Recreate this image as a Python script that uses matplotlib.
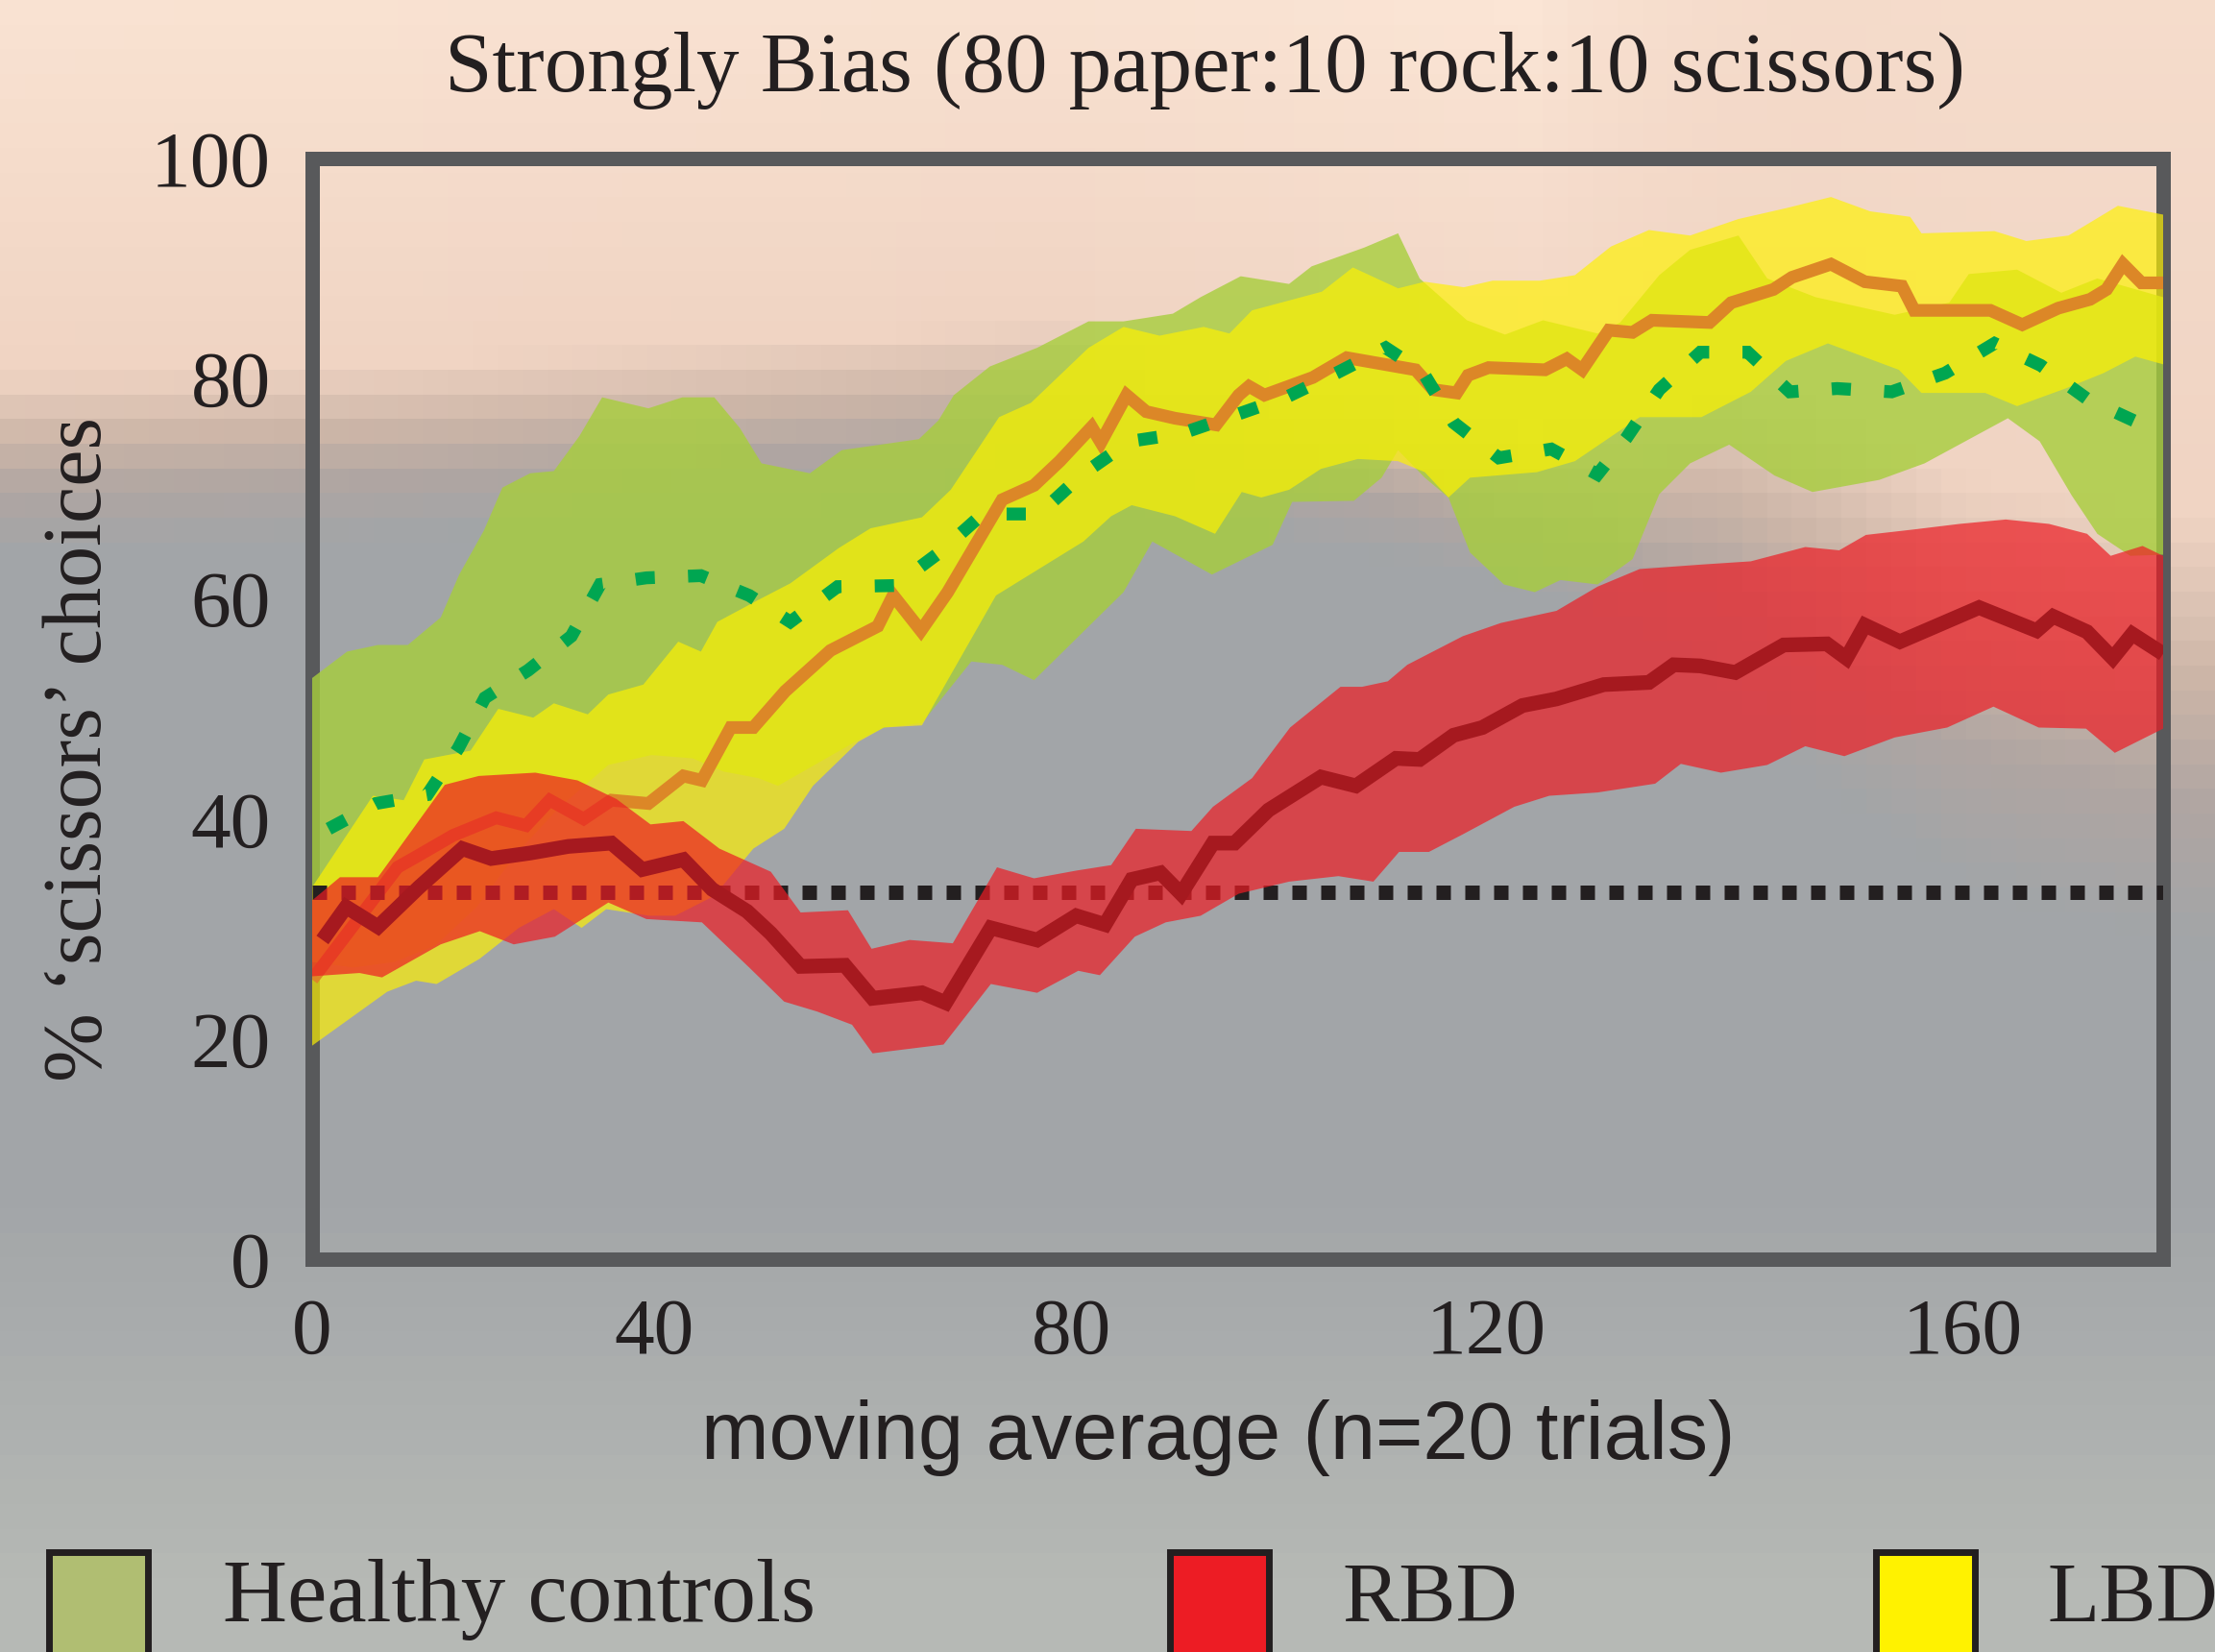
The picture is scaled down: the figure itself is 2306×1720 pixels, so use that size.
import numpy as np
import matplotlib
matplotlib.use("Agg")
import matplotlib.pyplot as plt
from matplotlib.patches import Rectangle

# Healthy controls: band (upper / lower edge) and mean
hc_up_x = [0, 3.4, 6.4, 9.3, 12.5, 14.3, 16.7, 18.5, 21.2, 23.5, 26.0, 28.2, 32.7, 36.0, 39.1, 41.6,
           43.7, 48.4, 51.5, 59.0, 60.9, 62.4, 65.9, 70.5, 75.5, 78.9, 83.7, 86.4, 90.3, 95.0, 97.2,
           102.3, 105.6, 107.7, 112.3, 116.0, 119.7, 125.0, 127.2, 131.0, 134.0, 138.7, 141.5, 146.2,
           153.9, 159.2, 161.1, 165.8, 170.1, 173.6, 180]
hc_up_y = [52.8, 55.2, 55.8, 55.8, 58.3, 62.2, 66.2, 70.1, 71.4, 71.6, 74.8, 78.3, 77.3, 78.3, 78.3, 75.5,
           72.3, 71.4, 73.5, 74.5, 76.2, 78.5, 81.1, 82.8, 85.2, 85.2, 85.9, 87.4, 89.3, 88.6, 90.2,
           91.9, 93.2, 89.1, 85.3, 84.0, 85.3, 84.1, 85.1, 89.4, 91.7, 93.0, 89.1, 87.4,
           85.8, 86.9, 89.5, 89.9, 87.8, 89.1, 87.4]
hc_lo_x = [0, 4, 8, 12, 16, 20, 24, 28.8, 33, 37, 40, 43.4, 45.3, 52.8, 55.6, 59.3, 64.1, 67.1, 70.2,
           78.9, 81.7, 87.5, 93.4, 95.3, 101.3, 104.0, 105.6, 108.2, 110.5, 112.6, 115.9, 118.9, 121.4,
           125.0, 128.4, 131.0, 134.0, 137.8, 142.2, 145.9, 152.4, 156.8, 164.9, 168.0, 171.1, 173.6,
           176.8, 180]
hc_lo_y = [27, 26.5, 27, 28.5, 32, 37, 41, 44.9, 45.8, 45.5, 44.3, 43.7, 43.0, 47.0, 48.3, 48.7, 54.3, 54.0, 52.6,
           60.6, 65.2, 62.2, 64.9, 68.8, 68.9, 71.0, 73.5, 71.0, 69.2, 64.2, 61.3, 60.6, 61.7,
           61.3, 63.6, 69.5, 72.3, 74.0, 71.2, 69.7, 70.8, 72.3, 76.4, 74.3, 69.4, 65.9,
           63.9, 64.0]
hc_x = [1.6, 6.2, 11.2, 14.2, 16.8, 21.0, 25.2, 28.0, 32.5, 37.8, 42.5, 46.5, 51.1, 56.7, 61.0, 65.2,
        70.7, 74.9, 79.5, 84.5, 89.5, 94.7, 99.6, 104.4, 108.0, 111.0, 115.4, 120.5, 125.0, 127.8,
        131.0, 135.0, 139.6, 143.7, 148.3, 153.6, 158.8, 163.6, 168.1, 172.7, 177.8]
hc_y = [39.1, 41.4, 42.2, 46.4, 51.0, 53.5, 56.6, 61.3, 61.9, 62.1, 60.3, 57.9, 61.1, 61.2, 64.2, 67.7,
        67.7, 71.3, 74.3, 75.0, 76.6, 78.3, 80.5, 82.8, 80.6, 76.0, 72.8, 73.6, 71.3, 74.6,
        79.0, 82.4, 82.4, 78.8, 79.1, 78.8, 80.5, 83.2, 81.2, 78.1, 75.9]

# LBD
lbd_up_x = [0, 5.9, 8.9, 10.9, 15.4, 18.1, 21.5, 23.5, 26.8, 28.8, 32.2, 35.6, 37.8, 39.4, 43.4, 46.5,
            51.2, 54.3, 59.3, 62.1, 66.8, 69.9, 75.5, 78.9, 82.4, 86.7, 89.2, 91.4, 98.2, 101.2, 105.6,
            108.2, 112.0, 114.8, 119.4, 122.8, 126.3, 130.0, 134.0, 138.7, 143.4, 147.7, 151.5, 155.4,
            156.5, 163.6, 166.7, 170.8, 175.6, 180]
lbd_up_y = [33.8, 42.1, 41.7, 45.4, 46.2, 50.0, 49.2, 50.5, 49.5, 51.3, 52.2, 56.1, 55.2, 57.9, 59.9, 61.4,
            64.6, 66.4, 67.4, 69.9, 76.5, 77.8, 82.8, 84.7, 83.9, 84.7, 84.1, 86.2, 87.9, 90.1, 88.2,
            88.8, 88.3, 88.9, 88.9, 89.4, 92.0, 93.5, 93.0, 94.5, 95.5, 96.5, 95.2, 94.7,
            93.2, 93.4, 92.5, 93.0, 95.7, 94.9]
lbd_lo_x = [0, 7.3, 10.1, 12.1, 16.3, 20.1, 23.5, 26.2, 28.6, 32.8, 35.3, 39.1, 42.9, 45.9, 48.7, 53.1,
            55.6, 59.3, 66.5, 75.0, 77.7, 79.7, 83.9, 87.8, 90.4, 92.3, 95.0, 98.1, 101.7, 105.6, 108.2,
            110.5, 112.6, 119.1, 122.8, 129.1, 135.1, 139.9, 143.3, 147.4, 154.3, 156.5, 162.7, 165.8,
            170.5, 174.2, 177.3, 180]
lbd_lo_y = [19.4, 24.3, 25.3, 25.0, 27.3, 30.1, 31.8, 30.1, 31.8, 31.2, 31.2, 33.0, 37.3, 39.1, 43.0, 47.0,
            48.3, 48.5, 60.3, 65.2, 67.5, 68.5, 67.5, 65.9, 69.7, 69.2, 69.9, 71.8, 72.7, 72.5, 71.5,
            69.2, 71.0, 71.5, 72.5, 76.5, 76.5, 78.8, 81.6, 83.2, 80.8, 78.7, 78.7, 77.5,
            79.1, 80.5, 82.0, 81.3]
lbd_x = [0, 8.3, 10.0, 13.7, 17.9, 20.8, 23.1, 26.4, 29.1, 32.7, 36.1, 37.9, 40.7, 42.9, 46.0, 50.4,
         55.0, 56.5, 59.2, 61.8, 67.1, 70.2, 72.7, 75.8, 76.7, 79.2, 81.1, 83.9, 87.9, 90.1, 91.1,
         92.6, 97.3, 100.6, 107.3, 109.0, 111.3, 112.4, 114.4, 119.9, 122.0, 123.5, 126.1, 128.4,
         130.3, 135.9, 138.0, 142.1, 143.9, 147.7, 151.0, 154.6, 155.8, 163.2, 166.3, 169.8, 172.9,
         174.5, 176.1, 177.9, 180]
lbd_y = [25.4, 35.6, 36.5, 38.5, 40.1, 39.4, 41.7, 40.0, 41.7, 41.4, 43.9, 43.5, 48.3, 48.3, 51.6, 55.3,
         57.5, 60.3, 57.1, 60.6, 69.0, 70.3, 72.5, 75.6, 74.2, 78.5, 77.0, 76.4, 75.8, 78.5, 79.3,
         78.5, 80.1, 81.9, 80.8, 79.0, 78.7, 80.3, 81.0, 80.8, 81.8, 80.8, 84.4, 84.2,
         85.3, 85.1, 86.9, 88.1, 89.2, 90.4, 88.8, 88.4, 86.2, 86.2, 84.9, 86.4, 87.2,
         88.1, 90.4, 88.7, 88.7]

# RBD
rbd_up_x = [0, 2.7, 6.4, 12.9, 16.2, 21.7, 25.8, 29.6, 32.9, 36.1, 39.6, 44.6, 47.5, 52.1, 54.4, 58.1,
            62.3, 66.6, 70.2, 74.3, 77.7, 80.1, 85.5, 87.6, 91.4, 95.1, 100.0, 102.1, 104.6, 106.5,
            111.9, 115.6, 121.0, 125.0, 129.1, 135.0, 139.9, 145.2, 148.5, 151.1, 155.8, 160.2, 164.7,
            168.9, 172.6, 174.9, 178.0, 180]
rbd_up_y = [32.6, 34.7, 34.7, 43.1, 43.9, 44.2, 43.5, 41.8, 39.5, 39.8, 37.3, 35.2, 31.5, 31.7, 28.2, 29.0,
            28.7, 35.6, 34.6, 35.3, 35.8, 39.1, 38.9, 41.1, 43.7, 48.3, 52.0, 52.0, 52.5, 54.0,
            56.6, 57.8, 58.9, 61.1, 62.7, 63.1, 63.4, 64.7, 64.4, 65.8, 66.3, 66.8, 67.2,
            66.8, 65.9, 63.9, 64.8, 63.9]
rbd_lo_x = [0, 4.6, 6.8, 12.5, 16.3, 19.6, 23.6, 28.8, 32.5, 37.9, 42.5, 45.9, 49.1, 52.5, 54.5, 61.4,
            66.0, 70.5, 74.5, 76.6, 80.0, 83.0, 86.4, 90.1, 95.0, 99.8, 103.2, 105.7, 108.6, 111.9,
            116.9, 120.3, 125.0, 130.6, 133.1, 137.0, 141.5, 145.2, 149.0, 153.9, 159.0, 163.5, 167.9,
            172.5, 175.3, 180]
rbd_lo_y = [25.7, 26.0, 25.6, 28.6, 29.8, 28.6, 29.3, 32.4, 30.9, 30.6, 26.5, 23.4, 22.5, 21.3, 18.7, 19.5,
            25.0, 24.2, 26.2, 25.8, 29.3, 30.6, 31.2, 33.2, 34.3, 34.8, 34.3, 37.0, 37.0, 38.6,
            41.1, 42.1, 42.4, 43.2, 45.0, 44.2, 44.9, 46.6, 45.7, 47.4, 48.3, 50.2, 48.3,
            48.2, 46.0, 48.2]
rbd_x = [1.0, 3.3, 6.4, 10.4, 14.6, 17.4, 21.2, 24.9, 29.1, 32.1, 36.1, 38.9, 42.3, 44.6, 47.5, 51.8,
         54.5, 59.3, 61.6, 66.0, 70.5, 74.3, 77.1, 79.7, 82.5, 84.5, 87.6, 89.7, 93.0, 98.1, 101.5,
         105.4, 107.7, 111.0, 113.8, 117.7, 121.0, 125.6, 130.0, 132.4, 135.0, 138.4, 143.1, 147.3,
         149.2, 151.0, 154.4, 162.1, 167.7, 169.3, 172.6, 175.1, 177.0, 180]
rbd_y = [29.0, 32.0, 30.2, 33.8, 37.3, 36.4, 36.9, 37.5, 37.8, 35.4, 36.3, 33.6, 31.6, 29.6, 26.6, 26.7,
         23.7, 24.2, 23.3, 30.1, 29.0, 31.2, 30.4, 34.5, 35.1, 33.2, 37.8, 37.8, 40.8, 43.8, 43.0,
         45.5, 45.4, 47.6, 48.3, 50.3, 50.9, 52.2, 52.4, 54.0, 53.9, 53.3, 55.8, 55.9,
         54.6, 57.6, 56.1, 59.2, 57.1, 58.4, 57.0, 54.6, 56.8, 55.0]

chance_level = 100 / 3
trial_span = [0, 180]

xtick_at = [0, 33.3, 73.8, 114.2, 160.5]
xtick_labels = ["0", "40", "80", "120", "160"]
ytick_at = [0, 20, 40, 60, 80, 100]

groups = ["Healthy controls", "RBD", "LBD"]
group_colors = ["#b0be72", "#ed1c24", "#fff200"]

plt.rcParams["font.family"] = "Liberation Serif"

W, H = 2306, 1720
fig = plt.figure(figsize=(W / 100, H / 100), dpi=100)

# blocky peach-to-grey backdrop
cell = 26
ny, nx = H // cell + 1, W // cell + 1
yy = (np.arange(ny) + 0.5) * cell
xx = (np.arange(nx) + 0.5) * cell
edge = np.interp(xx, [0, 400, 800, 1100, 1500, 1800, 2050, 2306], [500, 485, 460, 440, 520, 580, 740, 800])
spread = np.interp(xx, [0, 1600, 1900, 2306], [70, 65, 150, 170])
t = (yy[:, None] - edge[None, :]) / spread[None, :]
ramp_t = [-8, -1.5, -0.5, 0.3, 1.2]
ramp_c = np.array([(251, 229, 213), (240, 212, 195), (205, 182, 168), (176, 166, 162), (162, 165, 168)])
img = np.stack([np.interp(t, ramp_t, ramp_c[:, k]) for k in range(3)], axis=-1)
low = np.clip((yy - 1250) / 420, 0, 1)[:, None, None]
img = img * (1 - low) + np.array([182, 185, 181]) * low
bg = fig.add_axes([0, 0, 1, 1], zorder=-10)
bg.imshow(img.astype(np.uint8), extent=(0, W, H, 0), interpolation="nearest", aspect="auto")
bg.set_xlim(0, W)
bg.set_ylim(H, 0)
bg.axis("off")

ax = fig.add_axes([325 / W, 1 - 1311 / H, (2252 - 325) / W, (1311 - 165) / H])
ax.set_facecolor("none")


def band(ax, up_x, up_y, lo_x, lo_y, color, alpha, z):
    xs = list(up_x) + list(lo_x)[::-1]
    ys = list(up_y) + list(lo_y)[::-1]
    ax.fill(xs, ys, color=color, alpha=alpha, lw=0, zorder=z)


band(ax, hc_up_x, hc_up_y, hc_lo_x, hc_lo_y, "#a7ce3c", 0.8, 2)
band(ax, lbd_up_x, lbd_up_y, lbd_lo_x, lbd_lo_y, "#fff200", 0.67, 3)
ax.plot(lbd_x, lbd_y, color="#dc8727", lw=9.5, solid_joinstyle="miter",
        solid_capstyle="butt", zorder=4)
ax.plot(trial_span, [chance_level, chance_level], color="#231f20", lw=10.8,
        linestyle=(0, (1, 1)), dash_capstyle="butt", zorder=5)
ax.plot(hc_x, hc_y, color="#00a651", lw=9.6, linestyle=(0, (1.5, 2.6)),
        dash_capstyle="butt", dash_joinstyle="miter", zorder=5)
band(ax, rbd_up_x, rbd_up_y, rbd_lo_x, rbd_lo_y, "#ed1c24", 0.7, 6)
ax.plot(rbd_x, rbd_y, color="#a6191f", lw=11, solid_joinstyle="miter",
        solid_capstyle="butt", zorder=7)

ax.set_xlim(0, 180)
ax.set_ylim(0, 100)
for s in ax.spines.values():
    s.set_linewidth(10.8)
    s.set_color("#58595b")
    s.set_capstyle("projecting")
    s.set_zorder(1)
ax.set_xticks(xtick_at, xtick_labels)
ax.set_yticks(ytick_at, [str(v) for v in ytick_at])
ax.tick_params(axis="both", length=0, labelsize=60, colors="#231f20")
ax.tick_params(axis="x", pad=29)
ax.tick_params(axis="y", pad=31)

fig.text(1254 / W, 1 - 73 / H, "Strongly Bias (80 paper:10 rock:10 scissors)",
         ha="center", va="center", fontsize=64, color="#231f20")
fig.text(84 / W, 1 - 780 / H, "% \u2018scissors\u2019 choices", rotation=90,
         ha="center", va="center", fontsize=62, color="#231f20")
fig.text(1268 / W, 1 - 1497 / H, "moving average (n=20 trials)", family="Liberation Sans",
         ha="center", va="center", fontsize=61, color="#231f20")

# legend swatches run off the bottom edge
patch_left = [51, 1218, 1953]
text_left = [232, 1397, 2132]
text_size = [67, 64, 64]
for name, col, px, tx, fs in zip(groups, group_colors, patch_left, text_left, text_size):
    fig.add_artist(Rectangle((px / W, -0.05), 103 / W, 0.05 + 1 - 1616 / H,
                             transform=fig.transFigure, facecolor=col,
                             edgecolor="#231f20", lw=5))
    fig.text(tx / W, 1 - 1666 / H, name, ha="left", va="center", fontsize=fs,
             color="#231f20")

fig.savefig("out.png", dpi=100)
